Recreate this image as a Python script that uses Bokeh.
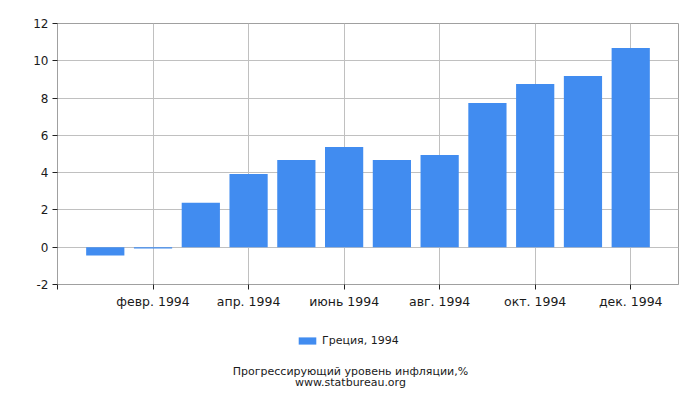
from bokeh.plotting import figure
from bokeh.layouts import column
from bokeh.models import Range1d, FixedTicker, Legend, LegendItem, ColumnDataSource, Label
from bokeh.embed import file_html
from bokeh.resources import INLINE

months = ["янв. 1994", "февр. 1994", "март 1994", "апр. 1994", "май 1994", "июнь 1994",
          "июль 1994", "авг. 1994", "сент. 1994", "окт. 1994", "нояб. 1994", "дек. 1994"]
values = [-0.45, -0.07, 2.38, 3.93, 4.68, 5.38, 4.68, 4.95, 7.74, 8.76, 9.19, 10.69]
y_ticks = [-2, 0, 2, 4, 6, 8, 10, 12]
x_tick_idx = [-1, 1, 3, 5, 7, 9, 11]
series_name = "Греция, 1994"
title_line1 = "Прогрессирующий уровень инфляции,%"
title_line2 = "www.statbureau.org"

FONT = "DejaVu Sans"
BAR = "#418CF0"
GRID = "#c0c0c0"
TXT = "#1a1a1a"

src = ColumnDataSource(dict(x=list(range(len(values))), top=values))

p = figure(width=700, height=320, output_backend="svg", toolbar_location=None,
           x_range=Range1d(-1, 12), y_range=Range1d(-2, 12),
           min_border_left=57, min_border_right=22, min_border_top=23, min_border_bottom=36)
p.background_fill_color = "white"
p.border_fill_color = "white"
p.outline_line_color = "#a0a0a0"

r = p.vbar(x="x", top="top", bottom=0, width=0.8, source=src, fill_color=BAR, line_color=None)

p.xaxis.ticker = FixedTicker(ticks=x_tick_idx)
p.xaxis.major_label_overrides = {i: (months[i] if i >= 0 else "") for i in x_tick_idx}
p.yaxis.ticker = FixedTicker(ticks=y_ticks)
p.yaxis.major_label_overrides = {t: str(t) for t in y_ticks}
for ax in (p.xaxis[0], p.yaxis[0]):
    ax.axis_line_color = "#a0a0a0"
    ax.major_tick_line_color = "#222222"
    ax.major_tick_out = 5
    ax.major_tick_in = 0
    ax.minor_tick_line_color = None
    ax.major_label_text_font = FONT
    ax.major_label_text_font_size = "12px"
    ax.major_label_text_color = TXT
    ax.major_label_standoff = 4
p.xaxis.major_label_text_font_size = "12.5px"

p.xgrid.ticker = FixedTicker(ticks=x_tick_idx)
p.ygrid.ticker = FixedTicker(ticks=y_ticks)
p.grid.grid_line_color = GRID
p.grid.grid_line_width = 1

# lower strip: legend and caption (its frame lines up with the chart frame, x 57..678; y page 320..400 downward)
p2 = figure(width=700, height=80, output_backend="svg", toolbar_location=None,
            x_range=Range1d(57, 678), y_range=Range1d(400, 320),
            x_axis_type=None, y_axis_type=None,
            min_border_left=0, min_border_right=0, min_border_top=0, min_border_bottom=0)
p2.grid.visible = False
p2.outline_line_color = None
p2.background_fill_color = "white"
p2.border_fill_color = "white"
p2.extra_x_ranges = {"offx": Range1d(-100, -50)}
p2.extra_y_ranges = {"offy": Range1d(100, 200)}

# same series, mapped just outside the strip; used only for the legend swatch
key = p2.vbar(x="x", top="top", bottom=0, width=0.8, source=src, fill_color=BAR,
              line_color=None, x_range_name="offx", y_range_name="offy")
legend = Legend(items=[LegendItem(label=series_name, renderers=[key])],
                location=(239, 53), orientation="horizontal",
                glyph_width=22, glyph_height=9, label_standoff=4, label_height=14,
                padding=0, margin=0, spacing=0,
                label_text_font=FONT, label_text_font_size="11px", label_text_color=TXT,
                border_line_color=None, background_fill_alpha=0)
p2.add_layout(legend, "center")

for txt, yy in ((title_line1, 371), (title_line2, 381.5)):
    p2.add_layout(Label(x=350, y=yy, text=txt, text_align="center", text_baseline="middle",
                        text_font=FONT, text_font_size="11px", text_color=TXT))

layout = column(p, p2, spacing=0)
open("out.html", "w").write(file_html(layout, INLINE))
